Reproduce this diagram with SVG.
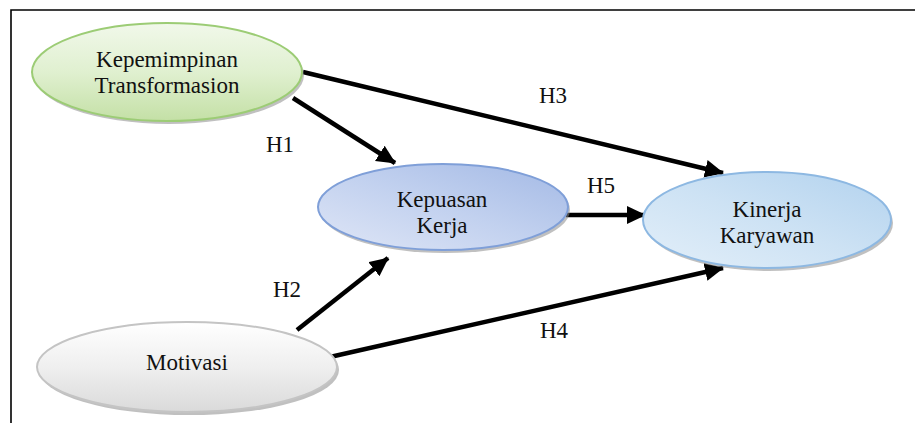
<svg xmlns="http://www.w3.org/2000/svg" width="915" height="423" viewBox="0 0 915 423">
<style>
  text { font-family: 'Liberation Serif', 'Times New Roman', Tinos, 'DejaVu Serif', serif; font-size: 23px; fill: #111; text-anchor: middle; }
  .conn { stroke: #000; stroke-width: 4.5; fill: none; marker-end: url(#ah); }
  .shadow { fill: #8c8c8c; opacity: 0.55; }
</style>
<defs>
  <marker id="ah" markerUnits="userSpaceOnUse" markerWidth="22" markerHeight="20" refX="18" refY="9" orient="auto">
    <path d="M0,0 L19,9 L0,18 Z" fill="#000"/>
  </marker>
  <linearGradient id="gGreen" x1="0" y1="0" x2="0" y2="1">
    <stop offset="0" stop-color="#f1f8ea"/>
    <stop offset="0.5" stop-color="#e0f0d0"/>
    <stop offset="1" stop-color="#c4e0a6"/>
  </linearGradient>
  <linearGradient id="gBlue1" x1="0" y1="1" x2="1" y2="0">
    <stop offset="0" stop-color="#dfe6f6"/>
    <stop offset="0.5" stop-color="#c2d1ef"/>
    <stop offset="1" stop-color="#a3b9e5"/>
  </linearGradient>
  <linearGradient id="gBlue2" x1="0" y1="1" x2="1" y2="0">
    <stop offset="0" stop-color="#e3eff9"/>
    <stop offset="0.5" stop-color="#cde2f4"/>
    <stop offset="1" stop-color="#b2d2ee"/>
  </linearGradient>
  <linearGradient id="gGray" x1="0" y1="0" x2="0" y2="1">
    <stop offset="0" stop-color="#ffffff"/>
    <stop offset="0.5" stop-color="#efefef"/>
    <stop offset="1" stop-color="#dadada"/>
  </linearGradient>
</defs>

<g id="frame">
  <path d="M11,423 L11,10 L915,10" fill="none" stroke="#000" stroke-width="1.6"/>
</g>

<g id="connectors">
  <line class="conn" x1="303" y1="72" x2="723" y2="173"/>
  <line class="conn" x1="293" y1="98" x2="395" y2="163"/>
  <line class="conn" x1="566" y1="215" x2="645" y2="215"/>
  <line class="conn" x1="297" y1="330" x2="388" y2="258"/>
  <line class="conn" x1="330" y1="357" x2="723" y2="268"/>
</g>

<g id="labels" font-family="Liberation Serif, serif">
  <text x="280" y="152">H1</text>
  <text x="287" y="297">H2</text>
  <text x="553" y="103">H3</text>
  <text x="554" y="338">H4</text>
  <text x="601" y="193">H5</text>
</g>

<g id="node-kepemimpinan">
  <ellipse class="shadow" cx="169" cy="75" rx="135" ry="49"/>
  <ellipse cx="167" cy="72" rx="135" ry="49" fill="url(#gGreen)" stroke="#9ccc75" stroke-width="2"/>
  <text x="167" y="67">Kepemimpinan</text>
  <text x="167" y="93">Transformasion</text>
</g>

<g id="node-kepuasan">
  <ellipse class="shadow" cx="445" cy="210" rx="125" ry="43"/>
  <ellipse cx="443" cy="207" rx="125" ry="43" fill="url(#gBlue1)" stroke="#7f9fd8" stroke-width="2"/>
  <text x="442" y="207">Kepuasan</text>
  <text x="442" y="233">Kerja</text>
</g>

<g id="node-kinerja">
  <ellipse class="shadow" cx="769" cy="223" rx="124" ry="48"/>
  <ellipse cx="767" cy="220" rx="124" ry="48" fill="url(#gBlue2)" stroke="#8db8e2" stroke-width="2"/>
  <text x="767" y="217">Kinerja</text>
  <text x="767" y="243">Karyawan</text>
</g>

<g id="node-motivasi">
  <ellipse class="shadow" cx="189" cy="370" rx="150" ry="45"/>
  <ellipse cx="187" cy="367" rx="150" ry="45" fill="url(#gGray)" stroke="#c4c4c4" stroke-width="2"/>
  <text x="187" y="370">Motivasi</text>
</g>
</svg>
